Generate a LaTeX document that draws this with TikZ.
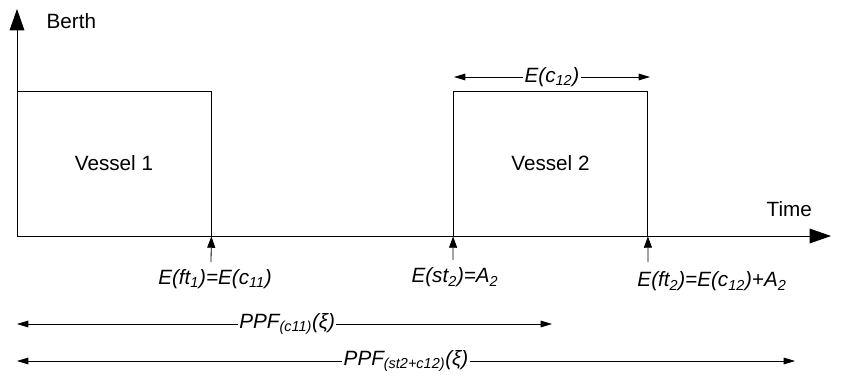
\documentclass[tikz,border=0pt]{standalone}
\usepackage{fontspec}
\setmainfont{Liberation Sans}
\usetikzlibrary{arrows.meta}
\usetikzlibrary{positioning}

\tikzset{
  axis/.style={line width=0.7pt, -{Triangle[length=16pt,width=11pt]}},
  dimline/.style={line width=0.6pt, {Triangle[length=8.5pt,width=5pt]}-{Triangle[length=8.5pt,width=5pt]}},
  tick/.style={line width=0.6pt, -{Triangle[length=8.5pt,width=6pt]}},
  vessel/.style={draw, line width=0.6pt, minimum width=145.5pt, minimum height=108.75pt, inner sep=0pt},
  lbl/.style={inner sep=1pt, font=\fontsize{15.5}{18}\selectfont\itshape},
}

\begin{document}
\begin{tikzpicture}[x=0.75pt, y=-0.75pt, font=\fontsize{15.5}{18}\selectfont]
                \useasboundingbox (0,0) rectangle (857,379);
                % axes
                \coordinate (O) at (17,236);
                \coordinate (ytip) at (17,9);
                \coordinate (xtip) at (831,236);
                \draw[axis] (O) -- (ytip);
                \draw[axis] (O) -- (xtip);
                \node[anchor=west] (berth) at (42,21) {Berth};
                \node[anchor=west] (time) at (762,209) {Time};
                % vessels
                \node[vessel] (v1) at (114,163.5) {Vessel 1};
                \node[vessel] (v2) at (550.5,163.5) {Vessel 2};
                % handling time of vessel 2
                \coordinate (c12l) at (454,77);
                \coordinate (c12r) at (650,77);
                \draw[dimline] (c12l) -- node[lbl, fill=white] {E(c\textsubscript{12})} (c12r);
                % expected times on the time axis
                \coordinate (ft1) at (211,262);
                \coordinate (st2) at (453,260);
                \coordinate (ft2) at (648,262);
                \draw[tick] (ft1) -- (v1.south east);
                \draw[tick] (st2) -- (v2.south west);
                \draw[tick] (ft2) -- (v2.south east);
                \node[lbl, anchor=north] (ft1lbl) at (215,268) {E(ft\textsubscript{1})=E(c\textsubscript{11})};
                \node[lbl, anchor=north] (st2lbl) at (455,266) {E(st\textsubscript{2})=A\textsubscript{2}};
                \node[lbl, anchor=north] (ft2lbl) at (712,270) {E(ft\textsubscript{2})=E(c\textsubscript{12})+A\textsubscript{2}};
                % PPF
                \coordinate (p1l) at (17,324);
                \coordinate (p1r) at (552,324);
                \coordinate (p2l) at (17,361);
                \coordinate (p2r) at (795,361);
                \draw[dimline] (p1l) -- node[lbl, fill=white, pos=0.505] {PPF\textsubscript{(c11)}(ξ)} (p1r);
                \draw[dimline] (p2l) -- node[lbl, fill=white, pos=0.5] {PPF\textsubscript{(st2+c12)}(ξ)} (p2r);
            \end{tikzpicture}
\end{document}
